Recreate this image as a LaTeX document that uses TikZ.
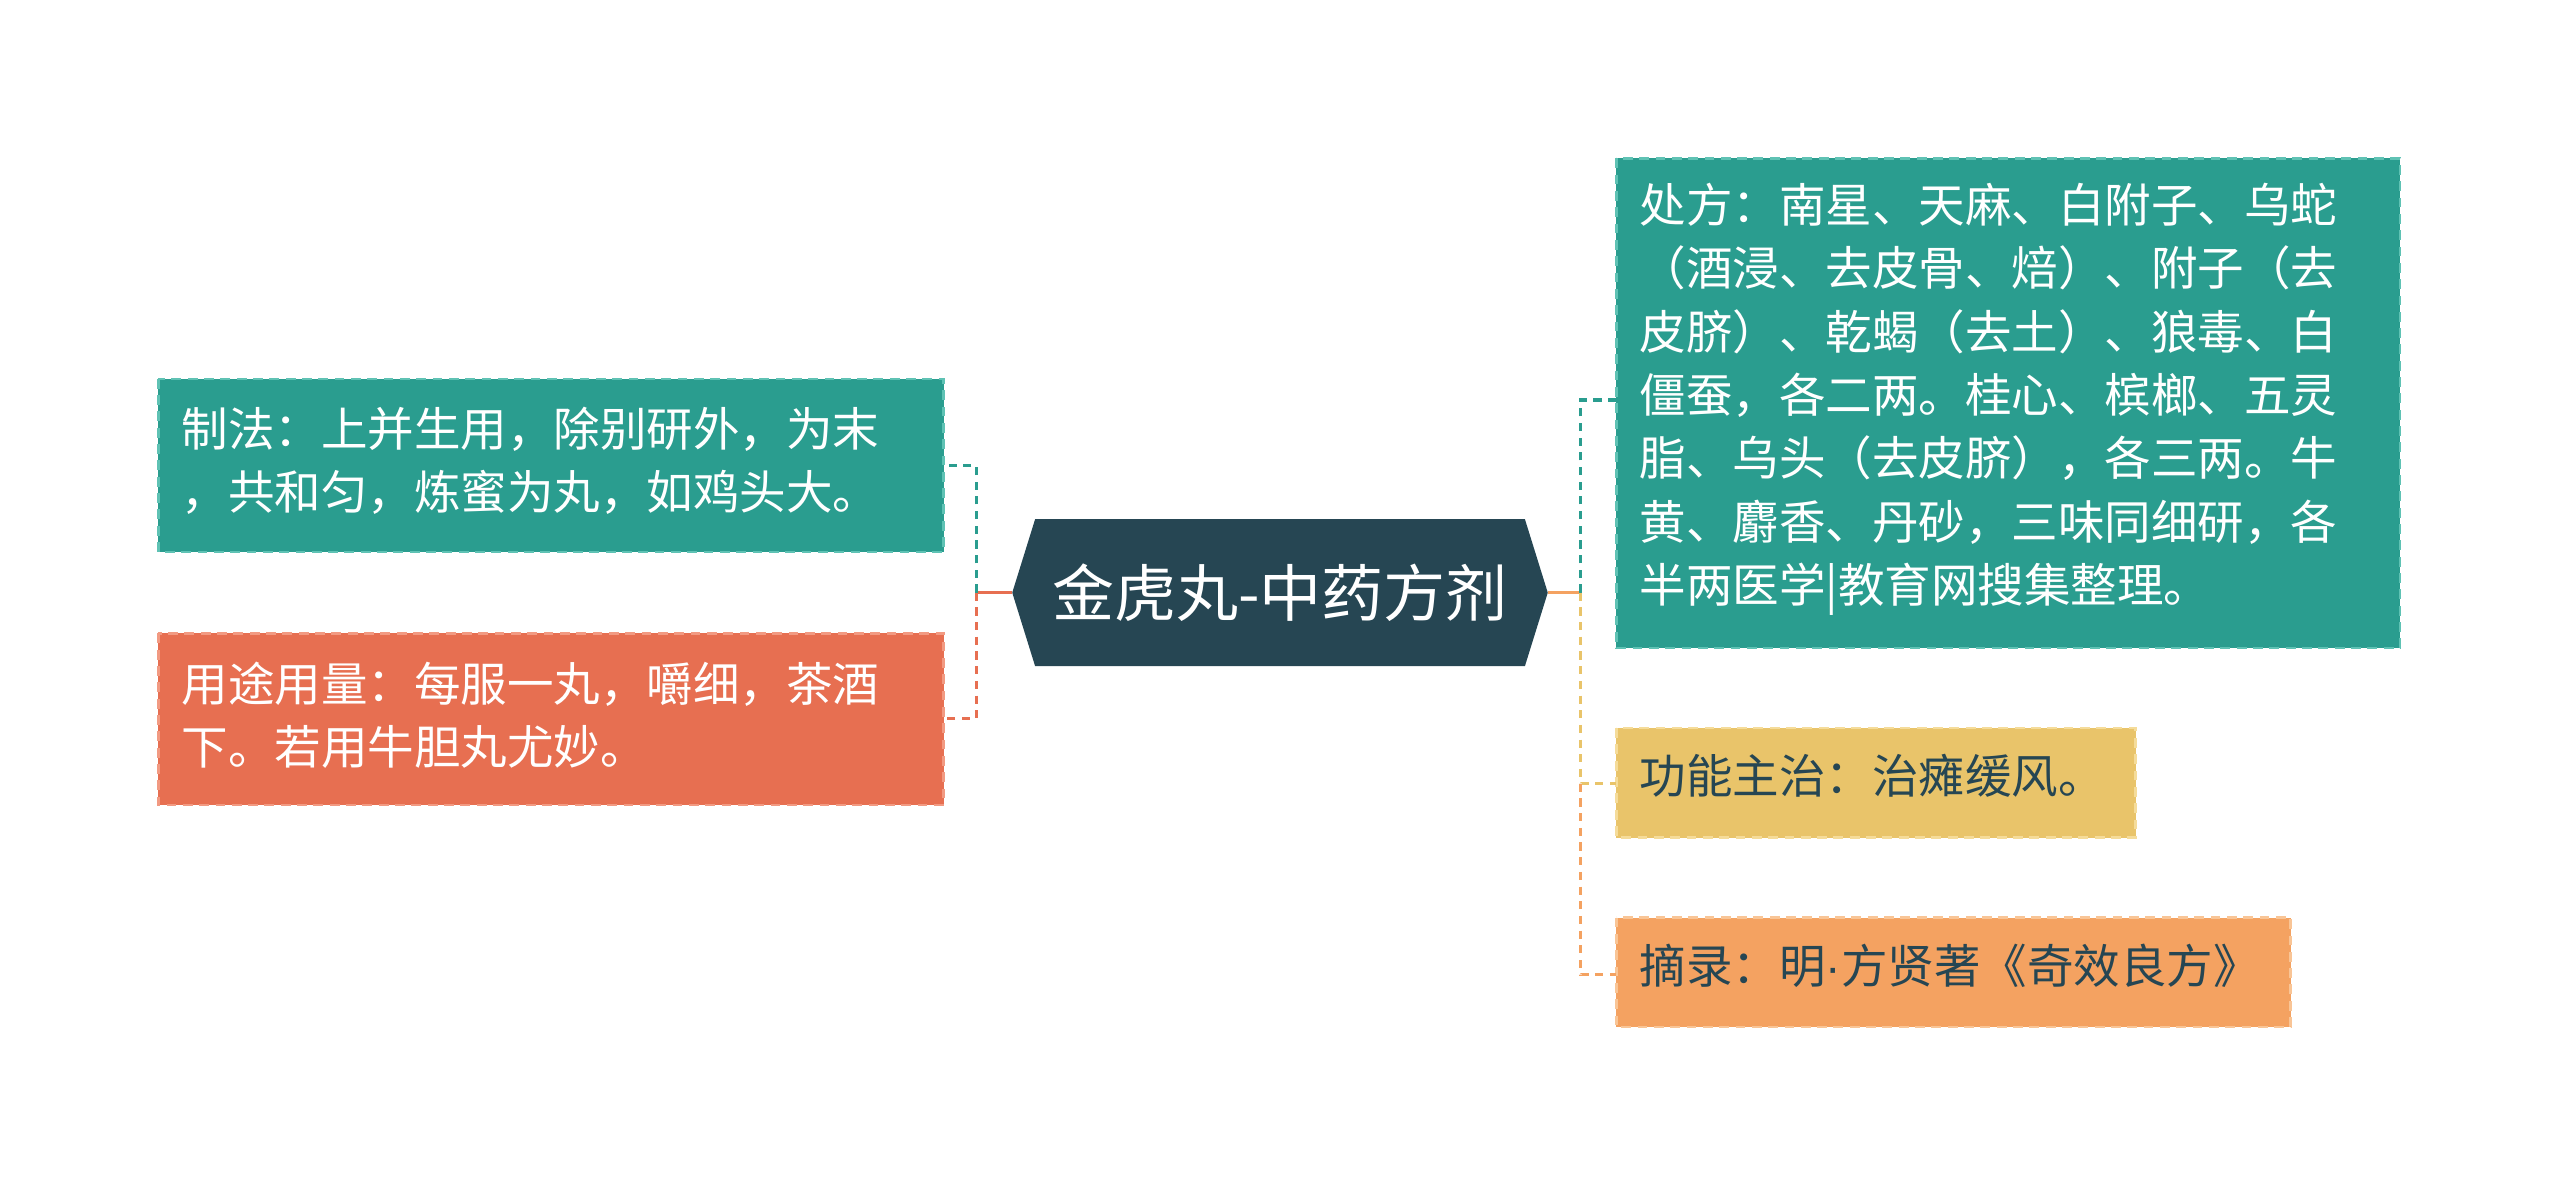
\documentclass[tikz,border=0pt]{standalone}
\usepackage{fontspec}
\newfontfamily\cjk{Noto Sans CJK SC}
\newfontfamily\lat{Liberation Sans}
\usetikzlibrary{shapes.geometric}
\definecolor{teal}{HTML}{2A9D8F}
\definecolor{tealb}{HTML}{5FC2B4}
\definecolor{red}{HTML}{E76F51}
\definecolor{redb}{HTML}{F29A82}
\definecolor{yel}{HTML}{E9C46A}
\definecolor{yelb}{HTML}{F5DC9A}
\definecolor{ora}{HTML}{F4A261}
\definecolor{orab}{HTML}{F9C596}
\definecolor{dark}{HTML}{264653}
\begin{document}
\begin{tikzpicture}[x=1pt,y=-1pt,
 box/.style={inner sep=0pt,dash pattern=on 6pt off 4pt,line width=1.5pt},
 txt/.style={anchor=north west,align=left,font=\cjk\fontsize{28.5}{38.8}\selectfont,inner sep=0pt},
 con/.style={dash pattern=on 5pt off 4pt,line width=2pt}]
\useasboundingbox (0,0) rectangle (1568,727);
% center
\fill[dark] (620,363) -- (634,318) -- (934,318) -- (948,363) -- (934,408) -- (634,408) -- cycle;
\node[font=\cjk\fontsize{38}{44}\selectfont,text=white] (c) at (784,363) {金虎丸-中药方剂};
% left boxes
\fill[teal] (97,232) rectangle (578,338); \draw[box,tealb] (97,232) rectangle (578,338);
\node[txt,text=white] (l1) at (111,249) {制法：上并生用，除别研外，为末\\，共和匀，炼蜜为丸，如鸡头大。};
\fill[red] (97,388) rectangle (578,493); \draw[box,redb] (97,388) rectangle (578,493);
\node[txt,text=white] (l2) at (111,405) {用途用量：每服一丸，嚼细，茶酒\\下。若用牛胆丸尤妙。};
% right boxes
\fill[teal] (990,97) rectangle (1470,397); \draw[box,tealb] (990,97) rectangle (1470,397);
\node[txt,text=white] (r1) at (1004,112) {处方：南星、天麻、白附子、乌蛇\\（酒浸、去皮骨、焙）、附子（去\\皮脐）、乾蝎（去土）、狼毒、白\\僵蚕，各二两。桂心、槟榔、五灵\\脂、乌头（去皮脐），各三两。牛\\黄、麝香、丹砂，三味同细研，各\\半两医学|教育网搜集整理。};
\fill[yel] (990,446) rectangle (1308,513); \draw[box,yelb] (990,446) rectangle (1308,513);
\node[txt,text=dark] (r2) at (1004,462) {功能主治：治瘫缓风。};
\fill[ora] (990,562) rectangle (1403,629); \draw[box,orab] (990,562) rectangle (1403,629);
\node[txt,text=dark] (r3) at (1004,578) {摘录：明{\lat·}方贤著《奇效良方》};
% connectors
\coordinate (lj) at (598,363); \coordinate (rj) at (968,363);
\draw[red,line width=2pt] (620,363) -- (lj);
\draw[con,teal] (lj) -- (598,285) -- (578,285);
\draw[con,red] (lj) -- (598,440) -- (578,440);
\draw[ora,line width=2pt] (948,363) -- (rj);
\draw[con,teal] (rj) -- (968,245) -- (990,245);
\draw[con,yel] (rj) -- (968,480) -- (990,480);
\draw[con,ora] (968,480) -- (968,597) -- (990,597);
\end{tikzpicture}
\end{document}
